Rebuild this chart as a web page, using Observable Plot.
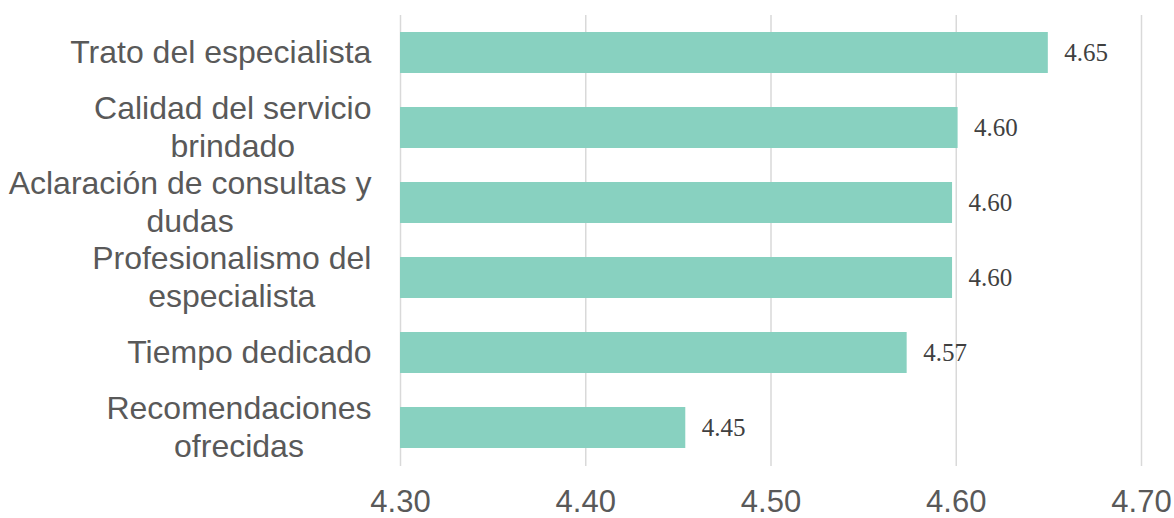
<!DOCTYPE html>
<html>
<head>
<meta charset="utf-8">
<script src="https://cdn.jsdelivr.net/npm/d3@7"></script>
<script src="https://cdn.jsdelivr.net/npm/@observablehq/plot@0.6"></script>
<style>
  html, body { margin: 0; padding: 0; background: #ffffff; }
</style>
</head>
<body>
<div id="chart"></div>
<script>
const categories = [
  "Trato del especialista",
  "Calidad del servicio brindado",
  "Aclaración de consultas y dudas",
  "Profesionalismo del especialista",
  "Tiempo dedicado",
  "Recomendaciones ofrecidas"
];
const categoryLabels = [
  "Trato del especialista",
  "Calidad del servicio\nbrindado",
  "Aclaración de consultas y\ndudas",
  "Profesionalismo del\nespecialista",
  "Tiempo dedicado",
  "Recomendaciones\nofrecidas"
];
const values = [4.6497, 4.601, 4.598, 4.598, 4.5735, 4.454];
const xTicks = [4.3, 4.4, 4.5, 4.6, 4.7];

const data = categories.map((c, i) => ({cat: c, label: categoryLabels[i], value: values[i]}));

const chart = Plot.plot({
  width: 1174,
  height: 518,
  marginLeft: 400,
  marginRight: 33,
  marginTop: 15,
  marginBottom: 52,
  style: {background: "#ffffff", fontFamily: "Liberation Sans, Arial, sans-serif"},
  x: {domain: [4.3, 4.7]},
  y: {domain: categories, paddingInner: 0.453, paddingOuter: 0.227},
  marks: [
    Plot.gridX(xTicks, {stroke: "#d9d9d9", strokeOpacity: 1, strokeWidth: 1.5}),
    Plot.barX(data, {x1: 4.3, x2: "value", y: "cat", fill: "#88d1c0"}),
    Plot.text(data, {
      x: "value", y: "cat", text: d => d.value.toFixed(2),
      textAnchor: "start", dx: 16, fontSize: 25,
      fontFamily: "Liberation Serif, serif", fill: "#404040"
    }),
    Plot.text(data, {
      y: "cat", text: "label", frameAnchor: "left", textAnchor: "end",
      dx: -29, dy: -2, fontSize: 32, lineHeight: 1.17, fill: "#595959",
      className: "catlabels"
    }),
    Plot.axisX(xTicks, {
      tickSize: 0, tickPadding: 23, fontSize: 31, fill: "#595959",
      tickFormat: d3.format(".2f"), label: null
    }),
    Plot.axisY({ticks: [], label: null, tickSize: 0})
  ]
});
document.getElementById("chart").appendChild(chart);

// Center each multi-line label's lines on each other, keeping the block right-aligned.
chart.querySelectorAll("g.catlabels text").forEach(t => {
  const w = t.getBBox().width;
  t.setAttribute("text-anchor", "middle");
  const tr = t.getAttribute("transform") || "";
  t.setAttribute("transform", tr + ` translate(${-w / 2},0)`);
});
</script>
</body>
</html>
